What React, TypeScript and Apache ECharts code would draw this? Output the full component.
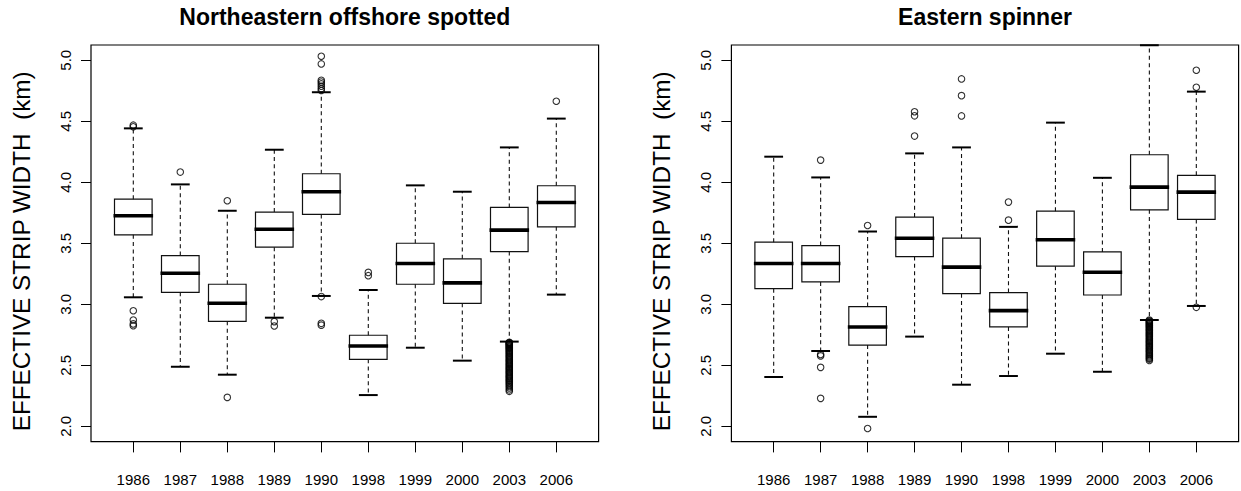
import React, { useEffect, useRef } from "react";
import * as echarts from "echarts";

const years = ["1986", "1987", "1988", "1989", "1990", "1998", "1999", "2000", "2003", "2006"];
const yTicks = [2.0, 2.5, 3.0, 3.5, 4.0, 4.5, 5.0];

// Northeastern offshore spotted
const lowL = [3.058, 2.489, 2.424, 2.891, 3.069, 2.257, 2.645, 2.539, 2.695, 3.08];
const q1L = [3.57, 3.099, 2.861, 3.469, 3.737, 2.55, 3.165, 3.009, 3.433, 3.635];
const medL = [3.726, 3.255, 3.009, 3.616, 3.923, 2.659, 3.335, 3.176, 3.608, 3.835];
const q3L = [3.862, 3.4, 3.165, 3.756, 4.07, 2.747, 3.501, 3.373, 3.794, 3.972];
const highL = [4.442, 3.983, 3.767, 4.267, 4.738, 3.118, 3.975, 3.923, 4.286, 4.522];
const outL: number[][] = [
  [4.455, 4.468, 2.948, 2.872, 2.84, 2.825],
  [4.084],
  [3.849, 2.238],
  [2.859, 2.823],
  [5.033, 4.97, 4.836, 4.822, 4.806, 4.787, 4.768, 4.752, 3.064, 2.845, 2.83],
  [3.262, 3.235],
  [],
  [],
  [2.69, 2.686, 2.681, 2.677, 2.672, 2.668, 2.661, 2.655, 2.649, 2.642, 2.636, 2.628, 2.621, 2.613, 2.604, 2.597,
   2.588, 2.579, 2.571, 2.562, 2.553, 2.545, 2.536, 2.527, 2.518, 2.51, 2.501, 2.492, 2.483, 2.474, 2.466, 2.457,
   2.448, 2.44, 2.431, 2.422, 2.413, 2.405, 2.396, 2.387, 2.378, 2.37, 2.36, 2.35, 2.34, 2.327, 2.315, 2.3, 2.288],
  [4.664],
];

// Eastern spinner
const lowR = [2.405, 2.618, 2.079, 2.736, 2.342, 2.413, 2.596, 2.448, 2.872, 2.987];
const q1R = [3.129, 3.184, 2.667, 3.392, 3.088, 2.815, 3.313, 3.077, 3.775, 3.696];
const medR = [3.335, 3.335, 2.815, 3.542, 3.305, 2.949, 3.529, 3.263, 3.961, 3.92];
const q3R = [3.51, 3.482, 2.982, 3.715, 3.542, 3.097, 3.764, 3.43, 4.226, 4.057];
const highR = [4.21, 4.04, 3.597, 4.237, 4.286, 3.635, 4.489, 4.037, 5.123, 4.743];
const outR: number[][] = [
  [],
  [4.182, 2.59, 2.578, 2.484, 2.23],
  [3.646, 1.983],
  [4.578, 4.545, 4.379],
  [4.847, 4.71, 4.544],
  [3.838, 3.69],
  [],
  [],
  [2.872, 2.866, 2.86, 2.853, 2.846, 2.84, 2.832, 2.825, 2.817, 2.81, 2.801, 2.793, 2.785, 2.776, 2.768, 2.76,
   2.751, 2.742, 2.734, 2.725, 2.716, 2.707, 2.698, 2.69, 2.681, 2.672, 2.663, 2.654, 2.645, 2.636, 2.627, 2.618,
   2.609, 2.6, 2.59, 2.58, 2.57, 2.56, 2.552, 2.541],
  [4.918, 4.779, 2.976],
];

const titles = ["Northeastern offshore spotted", "Eastern spinner"];
const yName = "EFFECTIVE STRIP WIDTH  (km)";

const FONT = "'Liberation Sans', Arial, Helvetica, sans-serif";
const Y_MIN = 1.875;
const Y_MAX = 5.125;

const panels = [
  { frameLeft: 91.0, frameWidth: 507.6, gridLeft: 109.8, gridWidth: 470.0 },
  { frameLeft: 731.4, frameWidth: 507.2, gridLeft: 750.2, gridWidth: 469.6 },
];
const TOP = 45;
const HEIGHT = 396.7;

function renderBox(params: any, api: any) {
  const x = api.value(0);
  const pLow = api.coord([x, api.value(1)]);
  const pQ1 = api.coord([x, api.value(2)]);
  const pMed = api.coord([x, api.value(3)]);
  const pQ3 = api.coord([x, api.value(4)]);
  const pHigh = api.coord([x, api.value(5)]);
  const band = api.size([1, 0])[0];
  const bw = band * 0.8;
  const half = bw / 2;
  const cap = bw / 4;
  const cx = pLow[0];
  const stroke = "#111";
  return {
    type: "group",
    children: [
      {
        type: "line",
        shape: { x1: cx, y1: pQ3[1], x2: cx, y2: pHigh[1] },
        style: { stroke, lineWidth: 1.1, lineDash: [4, 3.3] },
      },
      {
        type: "line",
        shape: { x1: cx, y1: pQ1[1], x2: cx, y2: pLow[1] },
        style: { stroke, lineWidth: 1.1, lineDash: [4, 3.3] },
      },
      {
        type: "line",
        shape: { x1: cx - cap, y1: pHigh[1], x2: cx + cap, y2: pHigh[1] },
        style: { stroke: "#000", lineWidth: 2 },
      },
      {
        type: "line",
        shape: { x1: cx - cap, y1: pLow[1], x2: cx + cap, y2: pLow[1] },
        style: { stroke: "#000", lineWidth: 2 },
      },
      {
        type: "rect",
        shape: { x: cx - half, y: pQ3[1], width: bw, height: pQ1[1] - pQ3[1] },
        style: { fill: "rgba(255,255,255,0)", stroke, lineWidth: 1.2 },
      },
      {
        type: "line",
        shape: { x1: cx - half - 1, y1: pMed[1], x2: cx + half + 1, y2: pMed[1] },
        style: { stroke: "#000", lineWidth: 3.6 },
      },
    ],
  };
}

function boxData(low: number[], q1: number[], med: number[], q3: number[], high: number[]) {
  return years.map((_, i) => [i, low[i], q1[i], med[i], q3[i], high[i]]);
}

function outlierData(out: number[][]) {
  const d: number[][] = [];
  out.forEach((vals, i) => vals.forEach((v) => d.push([i, v])));
  return d;
}

export default function App() {
  const ref = useRef<HTMLDivElement>(null);
  useEffect(() => {
    if (!ref.current) return;
    const chart = echarts.init(ref.current, null, { renderer: "svg" });
    const boxes = [boxData(lowL, q1L, medL, q3L, highL), boxData(lowR, q1R, medR, q3R, highR)];
    const outs = [outlierData(outL), outlierData(outR)];

    const option: any = {
      animation: false,
      textStyle: { fontFamily: FONT },
      grid: panels.map((p) => ({ left: p.gridLeft, top: TOP, width: p.gridWidth, height: HEIGHT, show: false })),
      xAxis: panels.map((_, i) => ({
        type: "category",
        gridIndex: i,
        data: years,
        axisLine: { show: false },
        axisTick: { show: true, alignWithLabel: true, length: 10.7, lineStyle: { color: "#000", width: 1 } },
        axisLabel: { margin: 30, fontSize: 15, color: "#000", fontFamily: FONT },
        splitLine: { show: false },
      })),
      yAxis: panels.map((p, i) => ({
        type: "value",
        gridIndex: i,
        min: Y_MIN,
        max: Y_MAX,
        offset: p.gridLeft - p.frameLeft,
        axisLine: { show: false },
        axisTick: { show: true, length: 10, customValues: yTicks, lineStyle: { color: "#000", width: 1 } },
        axisLabel: {
          show: true,
          customValues: yTicks,
          rotate: 90,
          margin: 18,
          fontSize: 15,
          color: "#000",
          fontFamily: FONT,
          formatter: (v: number) => v.toFixed(1),
        },
        splitLine: { show: false },
        name: yName,
        nameLocation: "middle",
        nameGap: 58,
        nameTextStyle: { fontSize: 24.3, color: "#000", fontFamily: FONT, padding: [0, 16, 0, 0] },
      })),
      series: [0, 1].flatMap((i) => [
        {
          type: "custom",
          xAxisIndex: i,
          yAxisIndex: i,
          renderItem: renderBox,
          encode: { x: 0, y: [1, 2, 3, 4, 5] },
          data: boxes[i],
          z: 2,
        },
        {
          type: "scatter",
          xAxisIndex: i,
          yAxisIndex: i,
          symbol: "circle",
          symbolSize: 6.5,
          itemStyle: { color: "rgba(0,0,0,0)", borderColor: "#000", borderWidth: 1.1 },
          data: outs[i],
          z: 3,
        },
      ]),
      graphic: [
        ...panels.map((p) => ({
          type: "rect",
          shape: { x: p.frameLeft, y: TOP, width: p.frameWidth, height: HEIGHT },
          style: { fill: "none", stroke: "#000", lineWidth: 1.2 },
          silent: true,
        })),
        ...panels.map((p, i) => ({
          type: "text",
          x: p.frameLeft + p.frameWidth / 2,
          y: 17,
          style: {
            text: titles[i],
            fill: "#000",
            font: `bold 23px ${FONT}`,
            align: "center",
            verticalAlign: "middle",
          },
        })),
      ],
    };
    chart.setOption(option);
    return () => chart.dispose();
  }, []);
  return (
    <div
      ref={ref}
      style={{ position: "fixed", left: 0, top: 0, width: 1241, height: 491, background: "#fff" }}
    />
  );
}
